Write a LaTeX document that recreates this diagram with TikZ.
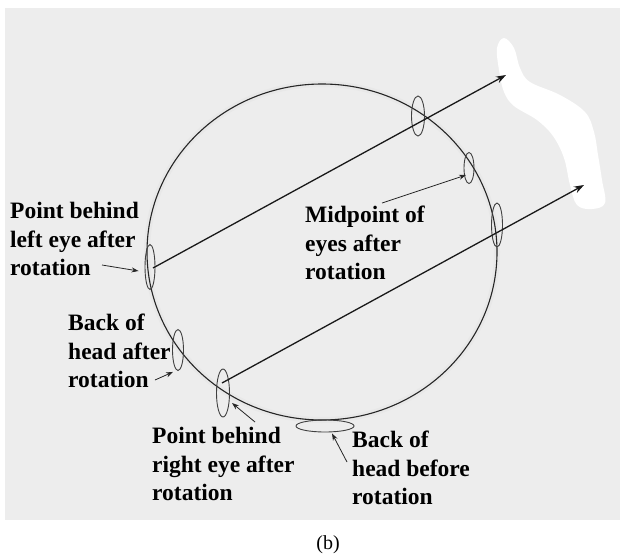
\documentclass[tikz,border=0pt]{standalone}
\usepackage{fontspec}
\setmainfont{Liberation Serif}
\usetikzlibrary{arrows.meta,calc,shapes.geometric}

\begin{document}
\begin{tikzpicture}[
  x=1pt,y=-1pt,
  >=Stealth,
  headline/.style={draw=black!85,line width=1.1pt},
  halo/.style={draw=black!9,line width=6pt},
  eyering/.style={draw=black!75,ellipse,inner sep=0pt,line width=0.9pt},
  ray/.style={->,draw=black!90,line width=1.3pt,
              >={Stealth[length=10pt,width=7pt]}},
  pointer/.style={->,draw=black!85,line width=0.8pt,
                  >={Stealth[length=7pt,width=5pt]}},
  lbl/.style={anchor=north west,inner sep=0pt,align=left,
              font=\fontsize{23.5}{28.5}\selectfont\bfseries},
]

\useasboundingbox (0,0) rectangle (626,557);

%% =====================================================
%%  Paper background
%% =====================================================
\fill[black!7] (5,8) rectangle (620,520);
\fill[white] plot[smooth cycle,tension=0.6] coordinates {
  (504,38) (514,48) (520,68) (530,82) (560,95) (585,112) (594,132)
  (598,155) (602,180) (605,203) (592,209) (577,205) (570,185)
  (564,158) (553,136) (537,120) (514,106) (504,92) (499,70) (497,48)};

%% =====================================================
%%  Head outline
%% =====================================================
\coordinate (hc) at (322,252);
\draw[halo] (hc) ellipse[x radius=175,y radius=168];
\draw[headline] (hc) ellipse[x radius=175,y radius=168];

%% =====================================================
%%  Markers on the head
%% =====================================================
\node[eyering,minimum width=10pt,minimum height=45pt] (mL)      at (150,267) {};
\node[eyering,minimum width=13pt,minimum height=40pt] (mTop)    at (418,116) {};
\node[eyering,minimum width=10pt,minimum height=31pt] (mMid)    at (469,168) {};
\node[eyering,minimum width=11pt,minimum height=44pt] (mRfront) at (497,225) {};
\node[eyering,minimum width=11pt,minimum height=41pt] (mBack)   at (178,350) {};
\node[eyering,minimum width=13pt,minimum height=48pt] (mR)      at (223,393) {};
\node[eyering,minimum width=58pt,minimum height=12pt] (mBefore) at (325,426) {};

%% =====================================================
%%  Viewing rays
%% =====================================================
\coordinate (fL) at (506,75);
\coordinate (fR) at (584,185);
\draw[ray] ($(mL.center)+(3,1)$) -- (fL);
\draw[ray] ($(mR.center)+(-1,-10)$) -- (fR);

%% =====================================================
%%  Labels
%% =====================================================
\node[lbl] (tLeft)   at (10,202)  {Point behind\\left eye after\\rotation};
\node[lbl] (tMid)    at (305,206) {Midpoint of\\eyes after\\rotation};
\node[lbl] (tBack)   at (68,314)  {Back of\\head after\\rotation};
\node[lbl] (tRight)  at (152,427) {Point behind\\right eye after\\rotation};
\node[lbl] (tBefore) at (352,431) {Back of\\head before\\rotation};

\node[font=\fontsize{20}{24}\selectfont] (cap) at (328,545) {(b)};

%% label pointers
\coordinate (aL)      at (102,265);
\coordinate (aMid)    at (382,203);
\coordinate (aBack)   at (155,380);
\coordinate (aR)      at (255,422);
\coordinate (aBefore) at (347,462);

\draw[pointer] (aL) -- ($(mL.west)+(-6,4)$);
\draw[pointer] (aMid) -- ($(mMid.center)+(-3,7)$);
\draw[pointer] (aBack) -- ($(mBack.south)+(-5,1)$);
\draw[pointer] (aR) -- ($(mR.center)+(9,10)$);
\draw[pointer] (aBefore) -- ($(mBefore.south)+(7,1)$);

\end{tikzpicture}
\end{document}
